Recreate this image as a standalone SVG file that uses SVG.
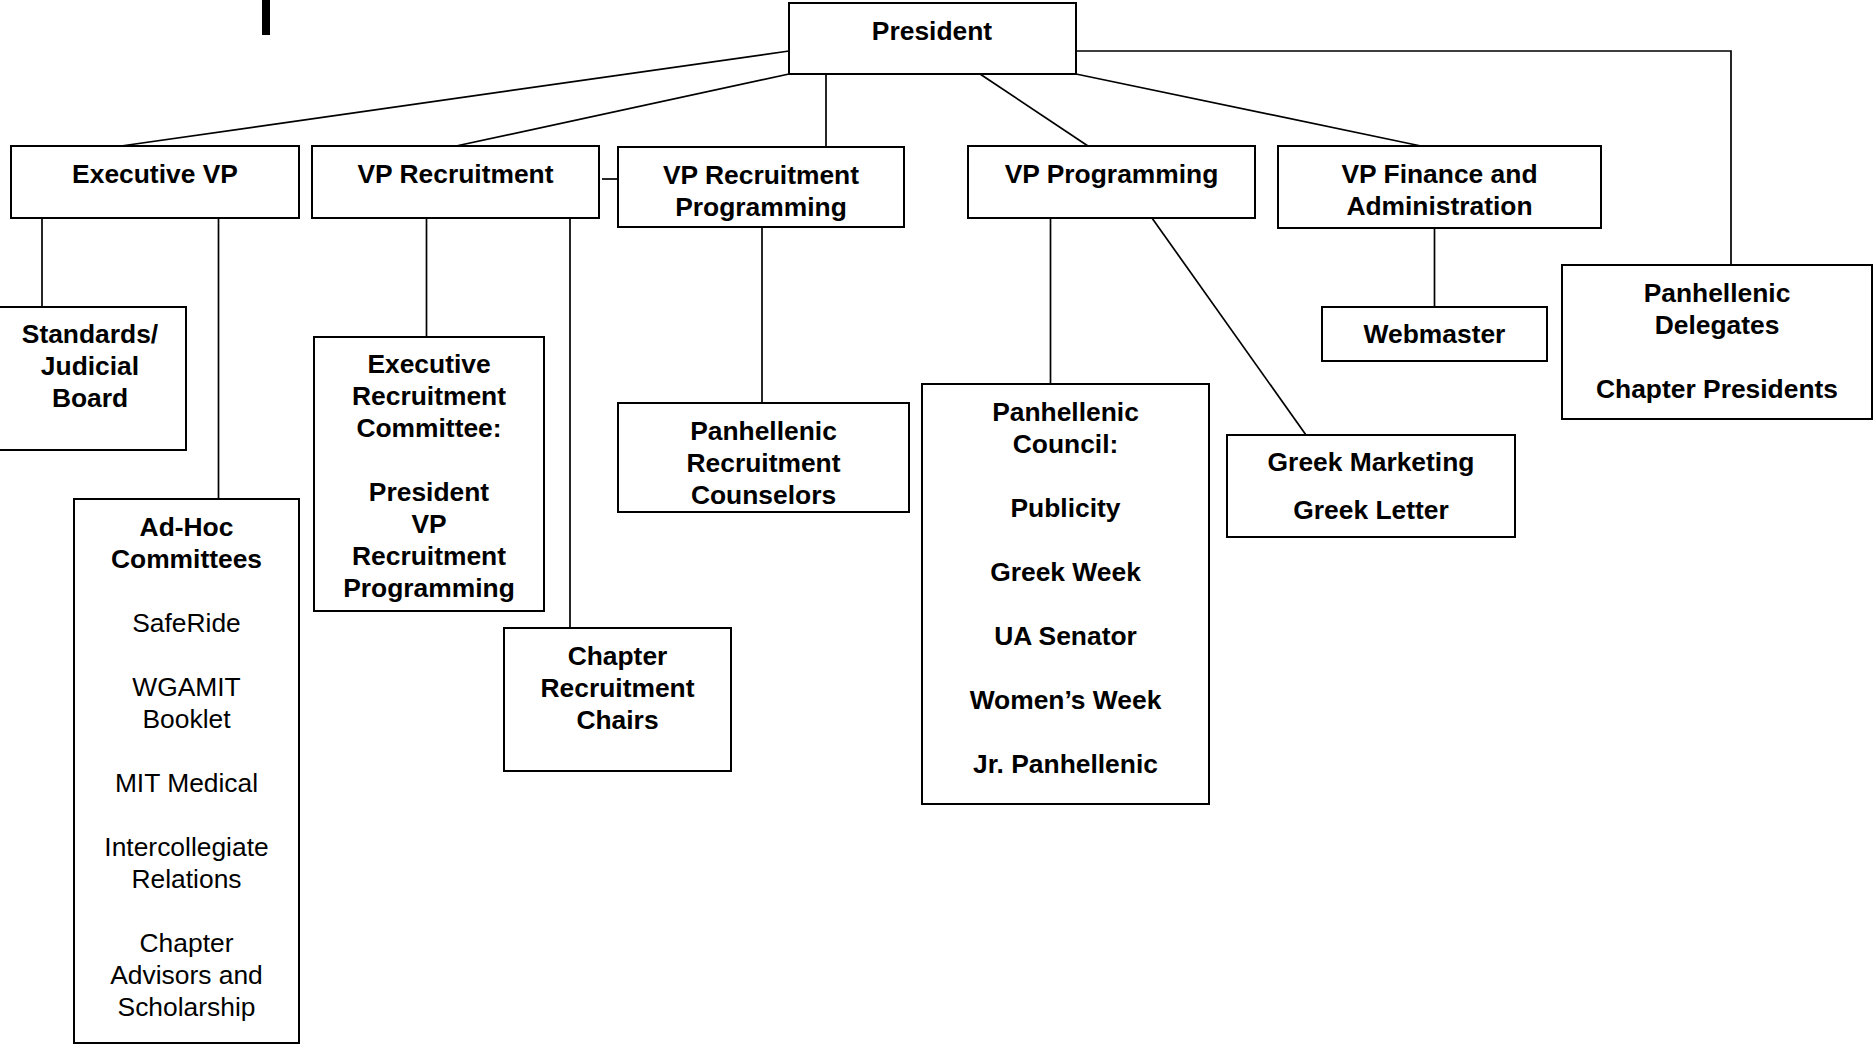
<svg xmlns="http://www.w3.org/2000/svg" width="1873" height="1048" viewBox="0 0 1873 1048">
<style>
.box{fill:#fff;stroke:#000;stroke-width:2}
.ln{fill:none;stroke:#000;stroke-width:1.7}
text{font-family:"Liberation Sans",Arial,sans-serif;font-size:26.4px;text-anchor:middle;fill:#000}
.b{font-weight:700}
</style>
<rect x="0" y="0" width="1873" height="1048" fill="#fff"/>
<rect x="262" y="0" width="8" height="35" fill="#000"/>
<g id="connectors">
<line class="ln" x1="789" y1="51" x2="121" y2="146"/>
<line class="ln" x1="789" y1="74" x2="456" y2="146"/>
<line class="ln" x1="826" y1="67" x2="826" y2="147"/>
<line class="ln" x1="980" y1="74" x2="1088" y2="146"/>
<line class="ln" x1="1076" y1="74" x2="1421" y2="146"/>
<polyline class="ln" points="1076,51 1731,51 1731,265"/>
<line class="ln" x1="602" y1="179" x2="618" y2="179"/>
<line class="ln" x1="42" y1="218" x2="42" y2="307"/>
<line class="ln" x1="218.5" y1="211" x2="218.5" y2="499"/>
<line class="ln" x1="426.5" y1="218" x2="426.5" y2="337"/>
<line class="ln" x1="570" y1="218" x2="570" y2="628"/>
<line class="ln" x1="762" y1="227" x2="762" y2="403"/>
<line class="ln" x1="1050.5" y1="218" x2="1050.5" y2="384"/>
<line class="ln" x1="1147" y1="211" x2="1306" y2="435"/>
<line class="ln" x1="1434.5" y1="228" x2="1434.5" y2="307"/>
</g>
<g id="president"><rect class="box" x="789" y="3" width="287" height="71"/><text class="b" x="932" y="40">President</text></g>
<g id="executive-vp"><rect class="box" x="11" y="146" width="288" height="72"/><text class="b" x="155" y="183">Executive VP</text></g>
<g id="vp-recruitment"><rect class="box" x="312" y="146" width="287" height="72"/><text class="b" x="455.5" y="183">VP Recruitment</text></g>
<g id="vp-recruitment-programming"><rect class="box" x="618" y="147" width="286" height="80"/><text class="b" x="761" y="184">VP Recruitment</text><text class="b" x="761" y="216">Programming</text></g>
<g id="vp-programming"><rect class="box" x="968" y="146" width="287" height="72"/><text class="b" x="1111.5" y="183">VP Programming</text></g>
<g id="vp-finance"><rect class="box" x="1278" y="146" width="323" height="82"/><text class="b" x="1439.5" y="183">VP Finance and</text><text class="b" x="1439.5" y="215">Administration</text></g>
<g id="webmaster"><rect class="box" x="1322" y="307" width="225" height="54"/><text class="b" x="1434.5" y="343">Webmaster</text></g>
<g id="panhellenic-delegates"><rect class="box" x="1562" y="265" width="310" height="154"/><text class="b" x="1717" y="302">Panhellenic</text><text class="b" x="1717" y="334">Delegates</text><text class="b" x="1717" y="398">Chapter Presidents</text></g>
<g id="standards"><rect class="box" x="-6" y="307" width="192" height="143"/><text class="b" x="90" y="343">Standards/</text><text class="b" x="90" y="375">Judicial</text><text class="b" x="90" y="407">Board</text></g>
<g id="ad-hoc"><rect class="box" x="74" y="499" width="225" height="544"/><text class="b" x="186.5" y="536">Ad-Hoc</text><text class="b" x="186.5" y="568">Committees</text><text x="186.5" y="632">SafeRide</text><text x="186.5" y="696">WGAMIT</text><text x="186.5" y="728">Booklet</text><text x="186.5" y="792">MIT Medical</text><text x="186.5" y="856">Intercollegiate</text><text x="186.5" y="888">Relations</text><text x="186.5" y="952">Chapter</text><text x="186.5" y="984">Advisors and</text><text x="186.5" y="1016">Scholarship</text></g>
<g id="exec-recruitment-committee"><rect class="box" x="314" y="337" width="230" height="274"/><text class="b" x="429" y="373">Executive</text><text class="b" x="429" y="405">Recruitment</text><text class="b" x="429" y="437">Committee:</text><text class="b" x="429" y="501">President</text><text class="b" x="429" y="533">VP</text><text class="b" x="429" y="565">Recruitment</text><text class="b" x="429" y="597">Programming</text></g>
<g id="chapter-recruitment-chairs"><rect class="box" x="504" y="628" width="227" height="143"/><text class="b" x="617.5" y="665">Chapter</text><text class="b" x="617.5" y="697">Recruitment</text><text class="b" x="617.5" y="729">Chairs</text></g>
<g id="panhellenic-recruitment-counselors"><rect class="box" x="618" y="403" width="291" height="109"/><text class="b" x="763.5" y="440">Panhellenic</text><text class="b" x="763.5" y="472">Recruitment</text><text class="b" x="763.5" y="504">Counselors</text></g>
<g id="panhellenic-council"><rect class="box" x="922" y="384" width="287" height="420"/><text class="b" x="1065.5" y="421">Panhellenic</text><text class="b" x="1065.5" y="453">Council:</text><text class="b" x="1065.5" y="517">Publicity</text><text class="b" x="1065.5" y="581">Greek Week</text><text class="b" x="1065.5" y="645">UA Senator</text><text class="b" x="1065.5" y="709">Women’s Week</text><text class="b" x="1065.5" y="773">Jr. Panhellenic</text></g>
<g id="greek-marketing"><rect class="box" x="1227" y="435" width="288" height="102"/><text class="b" x="1371" y="471">Greek Marketing</text><text class="b" x="1371" y="519">Greek Letter</text></g>
</svg>
